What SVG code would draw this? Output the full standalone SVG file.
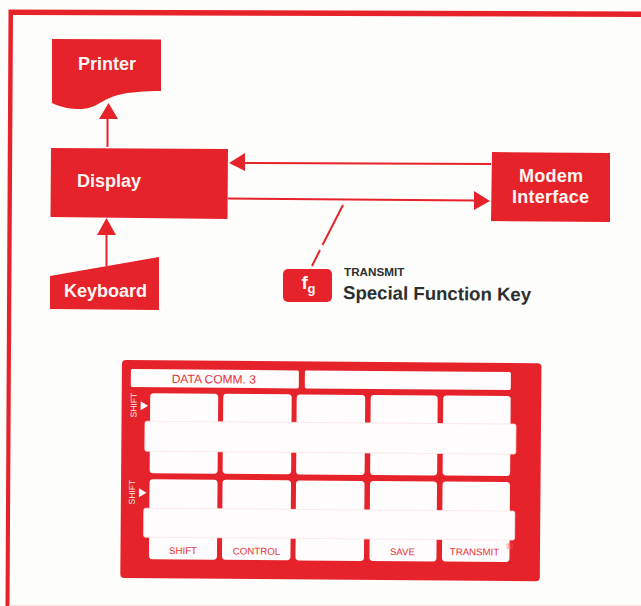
<svg xmlns="http://www.w3.org/2000/svg" width="641" height="606" viewBox="0 0 641 606">
<style>
.r{fill:#e6232a}
.w{fill:#fefcfc}
.l{stroke:#e6232a;stroke-width:2;fill:none}
text{font-family:"Liberation Sans",Arial,sans-serif}
.n{font-weight:700;font-size:18px;fill:#fdf6f4;text-anchor:middle}
.k{font-size:9.700px;fill:#e8323a;text-anchor:middle}
.s{font-size:8.500px;fill:#fdeeee;text-anchor:middle}
.d{fill:#2c2f30;font-weight:700}
.b{fill:#fefcfc;stroke:#fde4e4;stroke-width:0.800}
</style>
<rect width="641" height="606" fill="#fdfdfc"/>
<g id="frame"><path class="r" d="M8.500 9.500L641 11.500V17L13 15L9.500 606H5.500Z"/><path d="M9 605.500H641" stroke="#fbdadb" stroke-width="1" fill="none"/></g>
<g id="connectors">
<path class="l" d="M107.500 147V117"/><path class="r" d="M108.500 103L118 119H99Z"/>
<path class="l" d="M106.500 266V233"/><path class="r" d="M106.500 218L116 235H97Z"/>
<path class="l" d="M491 164L244 163"/><path class="r" d="M229 163L245 153V171Z"/>
<path class="l" d="M228 198.500L475 200.500"/><path class="r" d="M490 201L474 191V210Z"/>
<path class="l" d="M343 205L322.500 245M320 250L312 266"/>
</g>
<g id="printer"><path class="r" d="M52 39L161 39.500V91C145 91 130 92 118 95C100 100 96 109 80 109C72 109 62 108 52 103Z"/><text class="n" x="107" y="70">Printer</text></g>
<g id="display"><path class="r" d="M51 148L228 149L227.500 219L50.500 217Z"/><text class="n" x="109" y="187">Display</text></g>
<g id="modem"><path class="r" d="M492 152L610 153V222L491 221Z"/><text class="n" x="551" y="182" textLength="64">Modem</text><text class="n" x="550.500" y="203" textLength="77">Interface</text></g>
<g id="keyboard"><path class="r" d="M50 276L159 257V310L50 309Z"/><text class="n" x="105.500" y="297">Keyboard</text></g>
<g id="fkey"><rect class="r" x="283" y="269" width="49" height="33" rx="5"/><text x="301.500" y="289" font-size="19" font-weight="700" fill="#fdf6f4">f</text><text x="307.500" y="293" font-size="13" font-weight="700" fill="#fdf6f4">g</text></g>
<g id="label"><text class="d" x="344" y="276" font-size="11.700">TRANSMIT</text><text class="d" x="343" y="299" font-size="18.600" transform="rotate(0.6 343 299)">Special Function Key</text></g>
<g id="panel" transform="rotate(0.45 121 360)">
<rect class="r" x="122" y="360" width="419.500" height="218" rx="4"/>
<rect class="w" x="131" y="369" width="168" height="18" rx="1.500"/>
<rect class="w" x="305" y="369" width="206" height="18" rx="1.500"/>
<g class="w">
<rect x="150.500" y="393" width="68" height="80" rx="3.500"/><rect x="223.500" y="393" width="68.500" height="80" rx="3.500"/><rect x="297" y="393" width="68.500" height="80" rx="3.500"/><rect x="371" y="393" width="67" height="80" rx="3.500"/><rect x="443.500" y="393" width="67.500" height="80" rx="3.500"/>
<rect x="150.500" y="479" width="68" height="80" rx="3.500"/><rect x="223.500" y="479" width="68.500" height="80" rx="3.500"/><rect x="297" y="479" width="68.500" height="80" rx="3.500"/><rect x="371" y="479" width="67" height="80" rx="3.500"/><rect x="443.500" y="479" width="67.500" height="80" rx="3.500"/>
</g>
<rect class="b" x="145.500" y="421" width="371" height="30" rx="2"/>
<rect class="b" x="145" y="508" width="371" height="29" rx="2"/>
<path class="w" d="M141 401L148.500 405.500L141 410Z"/><path class="w" d="M140 488L147.500 492.500L140 497Z"/>
<text class="s" transform="translate(137 405) rotate(-90)">SHIFT</text>
<text class="s" transform="translate(136 492) rotate(-90)">SHIFT</text>
<text class="k" style="font-size:12px" x="214" y="382.500">DATA COMM. 3</text>
<text class="k" x="184.500" y="553.500">SHIFT</text><text class="k" x="258" y="553.500">CONTROL</text><text class="k" x="404" y="553">SAVE</text><text class="k" x="476" y="552.500">TRANSMIT</text>
<text x="511" y="546" font-size="9" fill="#f0666c" text-anchor="middle">®</text>
</g>
</svg>
